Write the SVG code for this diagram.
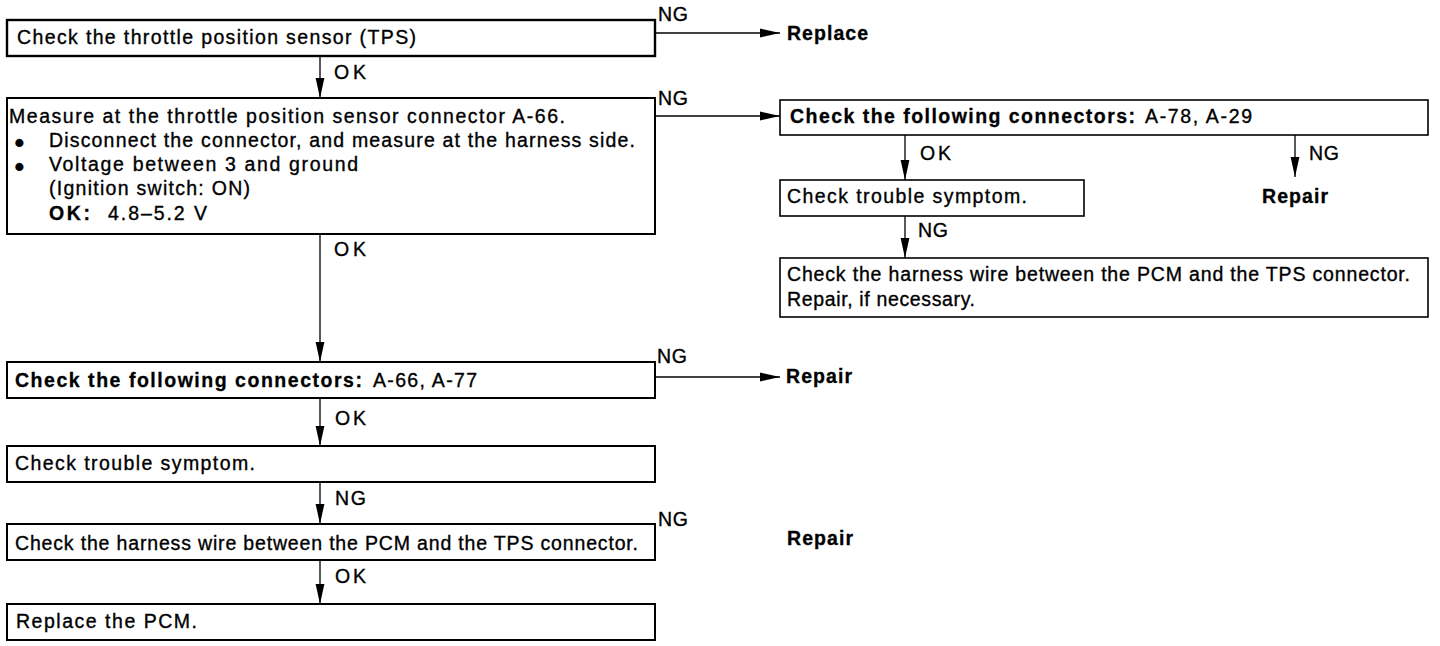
<svg xmlns="http://www.w3.org/2000/svg" width="1440" height="646" viewBox="0 0 1440 646">
<style>
text{font-family:"Liberation Sans",Arial,Helvetica,sans-serif;font-size:19.5px;fill:#000;stroke:#000;stroke-width:0.35}
.b{font-weight:bold;stroke-width:0.3}
.box{fill:#fff;stroke:#000;stroke-width:2}
.box2{fill:#fff;stroke:#000;stroke-width:1.6}
.c{fill:none;stroke:#000;stroke-width:1.3}
.bul{font-size:18px}
</style>
<defs>
<marker id="ah" markerWidth="20" markerHeight="10" refX="20" refY="5" orient="auto" markerUnits="userSpaceOnUse">
<path d="M0,0.6 L20,5 L0,9.4 z" fill="#000"/>
</marker>
</defs>
<rect width="1440" height="646" fill="#fff"/>
<g id="connectors">
<path class="c" d="M655,33 H780" marker-end="url(#ah)"/>
<path class="c" d="M320,56 V98" marker-end="url(#ah)"/>
<path class="c" d="M655,116 H780" marker-end="url(#ah)"/>
<path class="c" d="M320,234 V362" marker-end="url(#ah)"/>
<path class="c" d="M655,377 H780" marker-end="url(#ah)"/>
<path class="c" d="M320,398 V446" marker-end="url(#ah)"/>
<path class="c" d="M320,482 V524" marker-end="url(#ah)"/>
<path class="c" d="M320,560 V604" marker-end="url(#ah)"/>
<path class="c" d="M905,135 V180" marker-end="url(#ah)"/>
<path class="c" d="M1295,135 V177" marker-end="url(#ah)"/>
<path class="c" d="M905,216 V258" marker-end="url(#ah)"/>
<text x="334" y="79" textLength="32" lengthAdjust="spacing">OK</text>
<text x="658" y="21" textLength="30" lengthAdjust="spacing">NG</text>
<text x="658" y="105" textLength="30" lengthAdjust="spacing">NG</text>
<text x="334" y="256" textLength="32" lengthAdjust="spacing">OK</text>
<text x="657" y="363" textLength="30" lengthAdjust="spacing">NG</text>
<text x="335" y="425" textLength="31" lengthAdjust="spacing">OK</text>
<text x="335" y="505" textLength="31" lengthAdjust="spacing">NG</text>
<text x="658" y="526" textLength="30" lengthAdjust="spacing">NG</text>
<text x="335" y="583" textLength="31" lengthAdjust="spacing">OK</text>
<text x="920" y="160" textLength="31" lengthAdjust="spacing">OK</text>
<text x="1309" y="160" textLength="30" lengthAdjust="spacing">NG</text>
<text x="918" y="237" textLength="30" lengthAdjust="spacing">NG</text>
</g>
<g id="n1">
<rect class="box" x="7" y="20" width="648" height="36" style="stroke-width:2.4"/>
<text x="17" y="44" textLength="399" lengthAdjust="spacing">Check the throttle position sensor (TPS)</text>
</g>
<g id="n-replace">
<text class="b" x="787" y="40" textLength="81" lengthAdjust="spacing">Replace</text>
</g>
<g id="n2">
<rect class="box" x="7" y="98" width="648" height="136"/>
<text x="9" y="123" textLength="556" lengthAdjust="spacing">Measure at the throttle position sensor connector A-66.</text>
<text class="bul" x="14" y="148">●</text>
<text x="49" y="147" textLength="586" lengthAdjust="spacing">Disconnect the connector, and measure at the harness side.</text>
<text class="bul" x="14" y="172">●</text>
<text x="49" y="171" textLength="309" lengthAdjust="spacing">Voltage between 3 and ground</text>
<text x="49" y="195" textLength="201" lengthAdjust="spacing">(Ignition switch: ON)</text>
<text class="b" x="49" y="220" textLength="41" lengthAdjust="spacing">OK:</text>
<text x="108" y="220" textLength="99" lengthAdjust="spacing">4.8–5.2 V</text>
</g>
<g id="n3">
<rect class="box" x="7" y="362" width="648" height="36"/>
<text class="b" x="15" y="387" textLength="347" lengthAdjust="spacing">Check the following connectors:</text>
<text x="373" y="387" textLength="104" lengthAdjust="spacing">A-66, A-77</text>
</g>
<g id="n-repair1">
<text class="b" x="786" y="383" textLength="66" lengthAdjust="spacing">Repair</text>
</g>
<g id="n4">
<rect class="box" x="7" y="446" width="648" height="36"/>
<text x="15" y="470" textLength="240" lengthAdjust="spacing">Check trouble symptom.</text>
</g>
<g id="n5">
<rect class="box" x="7" y="524" width="648" height="36"/>
<text x="15" y="550" textLength="623" lengthAdjust="spacing">Check the harness wire between the PCM and the TPS connector.</text>
</g>
<g id="n-repair2">
<text class="b" x="787" y="545" textLength="66" lengthAdjust="spacing">Repair</text>
</g>
<g id="n6">
<rect class="box" x="7" y="604" width="648" height="36"/>
<text x="16" y="628" textLength="181" lengthAdjust="spacing">Replace the PCM.</text>
</g>
<g id="n7">
<rect class="box2" x="780" y="100" width="648" height="35"/>
<text class="b" x="790" y="123" textLength="345" lengthAdjust="spacing">Check the following connectors:</text>
<text x="1145" y="123" textLength="107" lengthAdjust="spacing">A-78, A-29</text>
</g>
<g id="n-repair3">
<text class="b" x="1262" y="203" textLength="66" lengthAdjust="spacing">Repair</text>
</g>
<g id="n8">
<rect class="box2" x="780" y="180" width="304" height="36"/>
<text x="787" y="203" textLength="240" lengthAdjust="spacing">Check trouble symptom.</text>
</g>
<g id="n9">
<rect class="box2" x="780" y="258" width="648" height="59"/>
<text x="787" y="281" textLength="623" lengthAdjust="spacing">Check the harness wire between the PCM and the TPS connector.</text>
<text x="787" y="306" textLength="188" lengthAdjust="spacing">Repair, if necessary.</text>
</g>
</svg>
